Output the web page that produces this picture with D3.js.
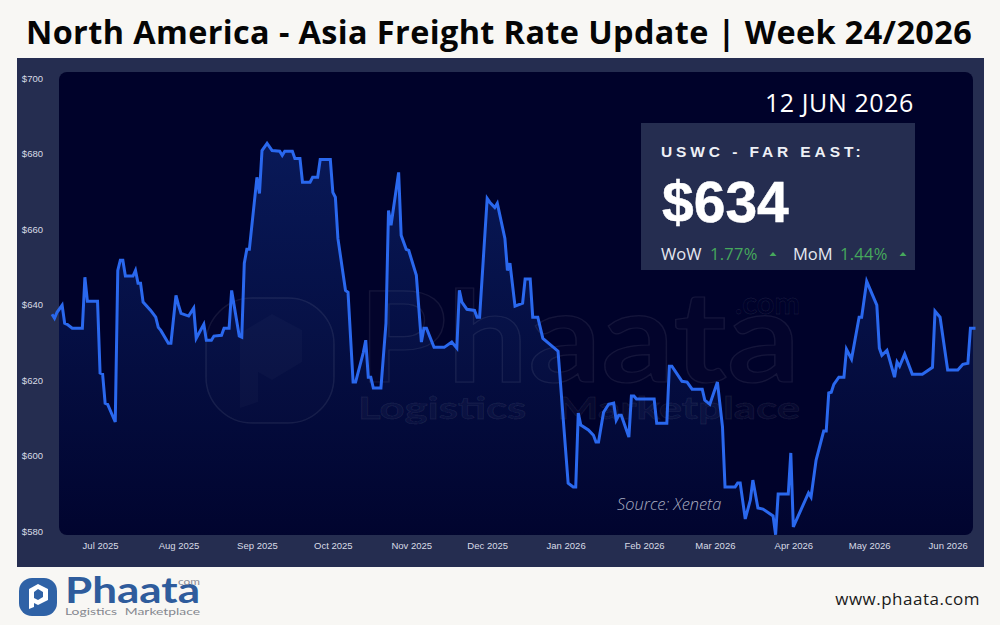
<!DOCTYPE html>
<html>
<head>
<meta charset="utf-8">
<script src="https://cdn.jsdelivr.net/npm/d3@7"></script>
<style>
html, body { margin: 0; padding: 0; background: #f8f7f4; overflow: hidden; }
svg { display: block; }
</style>
</head>
<body>
<script>
// days since the first reading
var startDate = new Date(2025, 5, 12);
var dayOffsets = [0,1,2,4,5,6,8,12,13,14,18,19,20,21,22,25,26,27,28,29,32,33,34,35,36,39,41,42,43,46,47,49,50,51,54,56,57,60,61,63,64,67,68,70,71,74,75,76,77,78,81,82,83,85,87,90,91,92,95,96,98,99,102,103,105,106,110,111,112,113,116,117,119,120,123,124,125,126,127,130,132,133,134,137,138,140,141,144,146,147,148,151,155,158,160,161,162,164,167,168,169,172,173,175,176,179,180,181,183,186,187,189,190,192,194,200,204,206,207,208,209,212,214,215,216,218,220,222,223,224,225,228,229,230,231,238,239,243,244,245,249,251,253,257,258,260,263,265,266,270,271,272,274,276,277,279,281,285,286,287,291,292,293,299,300,302,305,306,307,308,309,311,313,314,316,319,320,322,326,327,328,330,333,334,335,337,340,344,348,349,351,354,358,360,362,363,365];
var rates = [637.5,636.4,638,639.9,635.1,634.8,633.8,633.8,647.3,640.9,640.9,621.9,621.6,613.9,613.6,608.9,649.1,651.8,651.8,647.6,647.6,649.1,645.7,645.7,640.7,638.5,636.7,634,633.2,629.8,629.8,642.5,639.9,637.7,637,639.1,631.1,634.8,630.6,630.6,631.7,631.9,633.8,633.8,643.8,631.7,631.4,651,654.7,654.7,673.8,669.5,680.9,682.8,680.9,680.7,679.6,680.7,680.7,678.8,678.8,672.5,672.5,673.8,673.8,678.5,678.5,669.8,668.5,657.6,643.8,643.3,619.5,619.5,627.2,630.6,620.8,620.8,617.9,617.9,635.1,665,661.1,675.1,658.4,654.7,654.4,647.8,630.1,633.8,633.8,628.7,628.7,630.1,628.5,643.8,640.7,638.8,638.5,636.7,636.7,668.2,667.2,665.8,666.9,657.6,649.1,651,639.6,640.4,646.8,646.8,636.7,636.7,631.1,627.7,592.7,591.7,591.7,611.3,608.1,606.8,605.4,603.6,603.6,611.5,613.6,613.9,609.4,610.7,610.7,604.9,615.8,615.8,615,615,608.6,608.6,623.7,623.7,619.7,619.5,617.6,617.6,614.7,613.6,619.5,607.6,591.7,591.7,592.7,592.7,583.2,588.2,593.5,586.1,585.8,584,579,589.8,589.8,600.7,581.1,590.1,589,598.8,606.5,606.5,616.6,616.8,618.9,620.8,620.8,628.2,625.6,636.7,636.7,646.2,639.9,628.5,626.6,627.9,620.8,624.8,623.7,626.9,621.6,621.6,623.4,638.3,636.7,622.7,622.7,624.2,624.5,633.8,633.8];
var yTicks = [580,600,620,640,660,680,700];
var monthTicks = [new Date(2025,6,1),new Date(2025,7,1),new Date(2025,8,1),new Date(2025,9,1),new Date(2025,10,1),new Date(2025,11,1),new Date(2026,0,1),new Date(2026,1,1),new Date(2026,2,1),new Date(2026,3,1),new Date(2026,4,1),new Date(2026,5,1)];

var titleText = "North America - Asia Freight Rate Update | Week 24/2026";
var routeText = "USWC - FAR EAST:";
var priceText = "$634";
var dateText = "12 JUN 2026";
var sourceText = "Source: Xeneta";

var series = dayOffsets.map(function(d, i) {
  return { date: d3.timeDay.offset(startDate, d), rate: rates[i] };
});

var svg = d3.select("body").append("svg")
            .attr("width", 1000)
            .attr("height", 625);

var defs = svg.append("defs");
var grad = defs.append("linearGradient")
               .attr("id", "areaFill")
               .attr("gradientUnits", "userSpaceOnUse")
               .attr("x1", 0).attr("x2", 0)
               .attr("y1", 140).attr("y2", 535);
grad.append("stop").attr("offset", "0%").attr("stop-color", "#1d4fc4").attr("stop-opacity", 0.3);
grad.append("stop").attr("offset", "100%").attr("stop-color", "#1d4fc4").attr("stop-opacity", 0.03);

defs.append("clipPath").attr("id", "plotClip")
    .append("rect")
    .attr("x", 59).attr("y", 72)
    .attr("width", 914).attr("height", 463)
    .attr("rx", 8);

// title
svg.append("text")
   .attr("x", 499).attr("y", 44)
   .attr("text-anchor", "middle")
   .attr("font-family", "Open Sans")
   .attr("font-weight", 700)
   .attr("font-size", 32.4)
   .attr("letter-spacing", 0.4)
   .attr("fill", "#050505")
   .text(titleText);

// panel and plot background
svg.append("rect")
   .attr("x", 17).attr("y", 58)
   .attr("width", 967).attr("height", 509)
   .attr("fill", "#252d50");
svg.append("rect")
   .attr("x", 59).attr("y", 72)
   .attr("width", 914).attr("height", 463)
   .attr("rx", 8)
   .attr("fill", "#00022a");

var x = d3.scaleTime()
          .domain([startDate, d3.timeDay.offset(startDate, 365)])
          .range([52, 975.5]);
var y = d3.scaleLinear()
          .domain([580, 700])
          .range([531, 78.5]);

// axes
var yAxis = svg.append("g")
   .attr("transform", "translate(46,0)")
   .call(d3.axisLeft(y).tickValues(yTicks).tickSize(0).tickFormat(function(d) { return "$" + d; }));
var xAxis = svg.append("g")
   .attr("transform", "translate(0,539.5)")
   .call(d3.axisBottom(x).tickValues(monthTicks).tickSize(0).tickFormat(d3.timeFormat("%b %Y")));
[yAxis, xAxis].forEach(function(ax) {
  ax.select(".domain").remove();
  ax.selectAll("text")
    .attr("font-family", "Liberation Sans")
    .attr("font-size", 9.5)
    .attr("fill", "#d8dbe6");
});

// area under the line
var area = d3.area()
             .x(function(d) { return x(d.date); })
             .y0(535)
             .y1(function(d) { return y(d.rate); });
svg.append("path")
   .datum(series)
   .attr("clip-path", "url(#plotClip)")
   .attr("fill", "url(#areaFill)")
   .attr("d", area);

// watermark
var wm = svg.append("g")
            .attr("fill", "#ffffff")
            .attr("fill-opacity", 0.012)
            .attr("stroke", "#ffffff")
            .attr("stroke-opacity", 0.08);
wm.append("rect")
  .attr("x", 206).attr("y", 298)
  .attr("width", 128).attr("height", 125)
  .attr("rx", 46)
  .attr("stroke-width", 1.5);
wm.append("path")
  .attr("d", "M240 408 L240 333 L272 314 L302 330 L302 362 L272 380 L258 372 L258 402 Z")
  .attr("fill-opacity", 0.025)
  .attr("stroke", "none");
wm.append("text")
  .attr("x", 358).attr("y", 382)
  .attr("font-family", "Lato").attr("font-weight", 700)
  .attr("font-size", 126)
  .attr("stroke-width", 1.2)
  .attr("textLength", 442)
  .attr("lengthAdjust", "spacingAndGlyphs")
  .text("Phaata");
wm.append("text")
  .attr("x", 735).attr("y", 314)
  .attr("font-family", "Lato").attr("font-weight", 700)
  .attr("font-size", 30)
  .attr("stroke-width", 0.8)
  .attr("textLength", 65)
  .attr("lengthAdjust", "spacingAndGlyphs")
  .text(".com");
wm.append("text")
  .attr("x", 358).attr("y", 419)
  .attr("font-family", "Lato").attr("font-weight", 700)
  .attr("font-size", 30)
  .attr("fill-opacity", 0.03)
  .attr("stroke-width", 0.8)
  .attr("word-spacing", 14)
  .attr("textLength", 442)
  .attr("lengthAdjust", "spacingAndGlyphs")
  .text("Logistics Marketplace");

// rate line
var line = d3.line()
             .x(function(d) { return x(d.date); })
             .y(function(d) { return y(d.rate); });
svg.append("path")
   .datum(series)
   .attr("fill", "none")
   .attr("stroke", "#2a68ee")
   .attr("stroke-width", 3)
   .attr("stroke-linejoin", "miter")
   .attr("d", line);

// source
svg.append("text")
   .attr("x", 617).attr("y", 510)
   .attr("font-family", "Open Sans")
   .attr("font-weight", 300)
   .attr("font-style", "italic")
   .attr("font-size", 16.4)
   .attr("fill", "#a9adc0")
   .text(sourceText);

// stat card
svg.append("text")
   .attr("x", 914).attr("y", 112)
   .attr("text-anchor", "end")
   .attr("font-family", "Open Sans")
   .attr("font-size", 25)
   .attr("letter-spacing", 0.6)
   .attr("fill", "#ffffff")
   .text(dateText);
svg.append("rect")
   .attr("x", 641).attr("y", 123)
   .attr("width", 274).attr("height", 147)
   .attr("fill", "#252d50");
svg.append("text")
   .attr("x", 661).attr("y", 157)
   .attr("font-family", "Liberation Sans")
   .attr("font-weight", 700)
   .attr("font-size", 15.5)
   .attr("letter-spacing", 3.9)
   .attr("fill", "#eef0f6")
   .text(routeText);
svg.append("text")
   .attr("x", 662).attr("y", 222)
   .attr("font-family", "Liberation Sans")
   .attr("font-weight", 700)
   .attr("font-size", 57)
   .attr("stroke", "#ffffff")
   .attr("stroke-width", 0.5)
   .attr("fill", "#ffffff")
   .text(priceText);

var changes = [["WoW", "1.77%", 661, 710, 773], ["MoM", "1.44%", 793, 840, 903]];
var row = svg.append("g").selectAll("g").data(changes).enter().append("g");
row.append("text")
   .attr("x", function(d) { return d[2]; }).attr("y", 260)
   .attr("font-family", "Open Sans").attr("font-size", 16.5)
   .attr("fill", "#e6e8f0")
   .text(function(d) { return d[0]; });
row.append("text")
   .attr("x", function(d) { return d[3]; }).attr("y", 260)
   .attr("font-family", "Open Sans").attr("font-size", 16.5)
   .attr("letter-spacing", 0.3)
   .attr("fill", "#46a85c")
   .text(function(d) { return d[1]; });
row.append("path")
   .attr("transform", function(d) { return "translate(" + d[4] + ",254)"; })
   .attr("d", "M-3.5 2 L0 -2 L3.5 2 Z")
   .attr("fill", "#46a85c");

// footer logo
var logo = svg.append("g");
logo.append("rect")
    .attr("x", 19).attr("y", 578)
    .attr("width", 38).attr("height", 38)
    .attr("rx", 13)
    .attr("fill", "#2f62a6");
logo.append("path")
    .attr("d", "M29 609 L29 589 L38 584 L48 589 L48 600 L38 605 L34 603 L34 607 Z M34 592 L34 598 L38 600 L43 597 L43 592 L38 589 Z")
    .attr("fill", "#ffffff")
    .attr("fill-rule", "evenodd");
logo.append("text")
    .attr("x", 65).attr("y", 603)
    .attr("font-family", "Lato").attr("font-weight", 700)
    .attr("font-size", 37)
    .attr("textLength", 135)
    .attr("lengthAdjust", "spacingAndGlyphs")
    .attr("fill", "#2f5c9c")
    .text("Phaata");
logo.append("text")
    .attr("x", 178).attr("y", 585)
    .attr("font-family", "Lato")
    .attr("font-size", 9)
    .attr("textLength", 22)
    .attr("lengthAdjust", "spacingAndGlyphs")
    .attr("fill", "#8a8d96")
    .text("com");
logo.append("text")
    .attr("x", 65).attr("y", 615)
    .attr("font-family", "Lato")
    .attr("font-size", 10)
    .attr("word-spacing", 3)
    .attr("textLength", 135)
    .attr("lengthAdjust", "spacingAndGlyphs")
    .attr("fill", "#85888f")
    .text("Logistics Marketplace");

svg.append("text")
   .attr("x", 980).attr("y", 605)
   .attr("text-anchor", "end")
   .attr("font-family", "Open Sans")
   .attr("font-size", 17)
   .attr("letter-spacing", 0.5)
   .attr("fill", "#1a1a1a")
   .text("www.phaata.com");
</script>
</body>
</html>
